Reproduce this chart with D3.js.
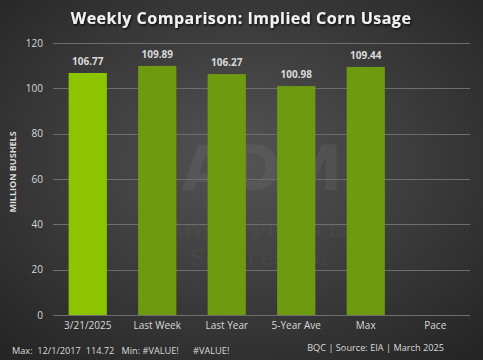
<!DOCTYPE html>
<html><head><meta charset="utf-8">
<script src="https://cdn.jsdelivr.net/npm/d3@7"></script>
<style>html,body{margin:0;padding:0;background:#333;}svg{display:block;}</style>
</head><body>
<script>
const categories = ["3/21/2025","Last Week","Last Year","5-Year Ave","Max","Pace"];
const values = [106.77, 109.89, 106.27, 100.98, 109.44, null];
const yTicks = [0,20,40,60,80,100,120];
const title = "Weekly Comparison: Implied Corn Usage";
const yLabel = "MILLION BUSHELS";
const footLeft = "Max:  12/1/2017  114.72   Min: #VALUE!      #VALUE!";
const footRight = "BQC | Source: EIA | March 2025";

const W = 483, H = 360;
const svg = d3.select("body").append("svg").attr("width", W).attr("height", H);
const defs = svg.append("defs");
const rg = defs.append("radialGradient").attr("id","bg").attr("cx","50%").attr("cy","45%").attr("r","70%");
rg.append("stop").attr("offset","0%").attr("stop-color","#545454");
rg.append("stop").attr("offset","100%").attr("stop-color","#262626");
const f = defs.append("filter").attr("id","sh").attr("x","-10%").attr("y","-30%").attr("width","120%").attr("height","160%");
f.append("feDropShadow").attr("dx",1).attr("dy",1.5).attr("stdDeviation",1).attr("flood-color","#000").attr("flood-opacity",0.8);

svg.append("rect").attr("width",W).attr("height",H).attr("fill","url(#bg)");

const x = d3.scaleBand().domain(categories).range([53, 470]).paddingInner(0.45).paddingOuter(0.225);
const y = d3.scaleLinear().domain([0,120]).range([315, 43]);

// watermark
const wm = svg.append("g").attr("fill","#ffffff").attr("fill-opacity",0.05).attr("font-family","DejaVu Serif, serif");
wm.append("text").attr("x",262).attr("y",190).attr("text-anchor","middle").attr("font-size",62).attr("font-family","DejaVu Sans, sans-serif").attr("font-weight","bold").text("ADM");
wm.append("text").attr("x",262).attr("y",237).attr("text-anchor","middle").attr("font-size",22).text("Archer Financial");
wm.append("text").attr("x",262).attr("y",265).attr("text-anchor","middle").attr("font-size",22).text("Services Inc.");

// grid
svg.append("g").selectAll("line").data(yTicks).join("line")
  .attr("x1",53).attr("x2",470).attr("y1",d=>Math.round(y(d))+0.5).attr("y2",d=>Math.round(y(d))+0.5)
  .attr("stroke","#6e6e6e").attr("stroke-width",1);

// y axis labels
const yAxis = d3.axisLeft(y).tickValues(yTicks).tickSize(0).tickPadding(0);
const ya = svg.append("g").attr("transform","translate(43,0)").call(yAxis);
ya.select(".domain").remove();
ya.selectAll("text").attr("fill","#d9d9d9").attr("font-family","Open Sans, sans-serif").attr("font-size",10);

// x axis labels
const xAxis = d3.axisBottom(x).tickSize(0).tickPadding(0);
const xa = svg.append("g").attr("transform","translate(0,322)").call(xAxis);
xa.select(".domain").remove();
xa.selectAll("text").attr("fill","#d9d9d9").attr("font-family","Open Sans, sans-serif").attr("font-size",10);

// bars
const data = categories.map((c,i)=>({c, v: values[i], i})).filter(d=>d.v!=null);
svg.append("g").selectAll("rect").data(data).join("rect")
  .attr("x",d=>x(d.c)).attr("width",x.bandwidth())
  .attr("y",d=>y(d.v)).attr("height",d=>y(0)-y(d.v))
  .attr("fill",d=>d.i===0?"#8cc400":"#6e9a10");

// value labels
svg.append("g").selectAll("text").data(data).join("text")
  .attr("x",d=>x(d.c)+x.bandwidth()/2).attr("y",d=>y(d.v)-8)
  .attr("text-anchor","middle").attr("fill","#d9d9d9")
  .attr("font-family","Open Sans, sans-serif").attr("font-weight","bold").attr("font-size",10)
  .text(d=>d.v.toFixed(2));

// y label
svg.append("text").attr("transform","translate(16,172) rotate(-90)").attr("text-anchor","middle")
  .attr("fill","#d9d9d9").attr("font-family","Open Sans, sans-serif").attr("font-weight","bold").attr("font-size",9)
  .text(yLabel);

// title
svg.append("text").attr("x",241).attr("y",24).attr("text-anchor","middle")
  .attr("fill","#f2f2f2").attr("font-family","Open Sans, sans-serif").attr("font-weight","bold").attr("font-size",16)
  .attr("letter-spacing",0.5).attr("filter","url(#sh)").text(title);

// footers
svg.append("text").attr("x",12).attr("y",354).attr("fill","#d9d9d9").attr("font-family","Open Sans, sans-serif").attr("font-size",9.2)
  .attr("xml:space","preserve").style("white-space","pre").text(footLeft);
svg.append("text").attr("x",444).attr("y",351).attr("text-anchor","end").attr("fill","#d9d9d9").attr("font-family","Open Sans, sans-serif").attr("font-size",9.2)
  .text(footRight);
</script>
</body></html>
